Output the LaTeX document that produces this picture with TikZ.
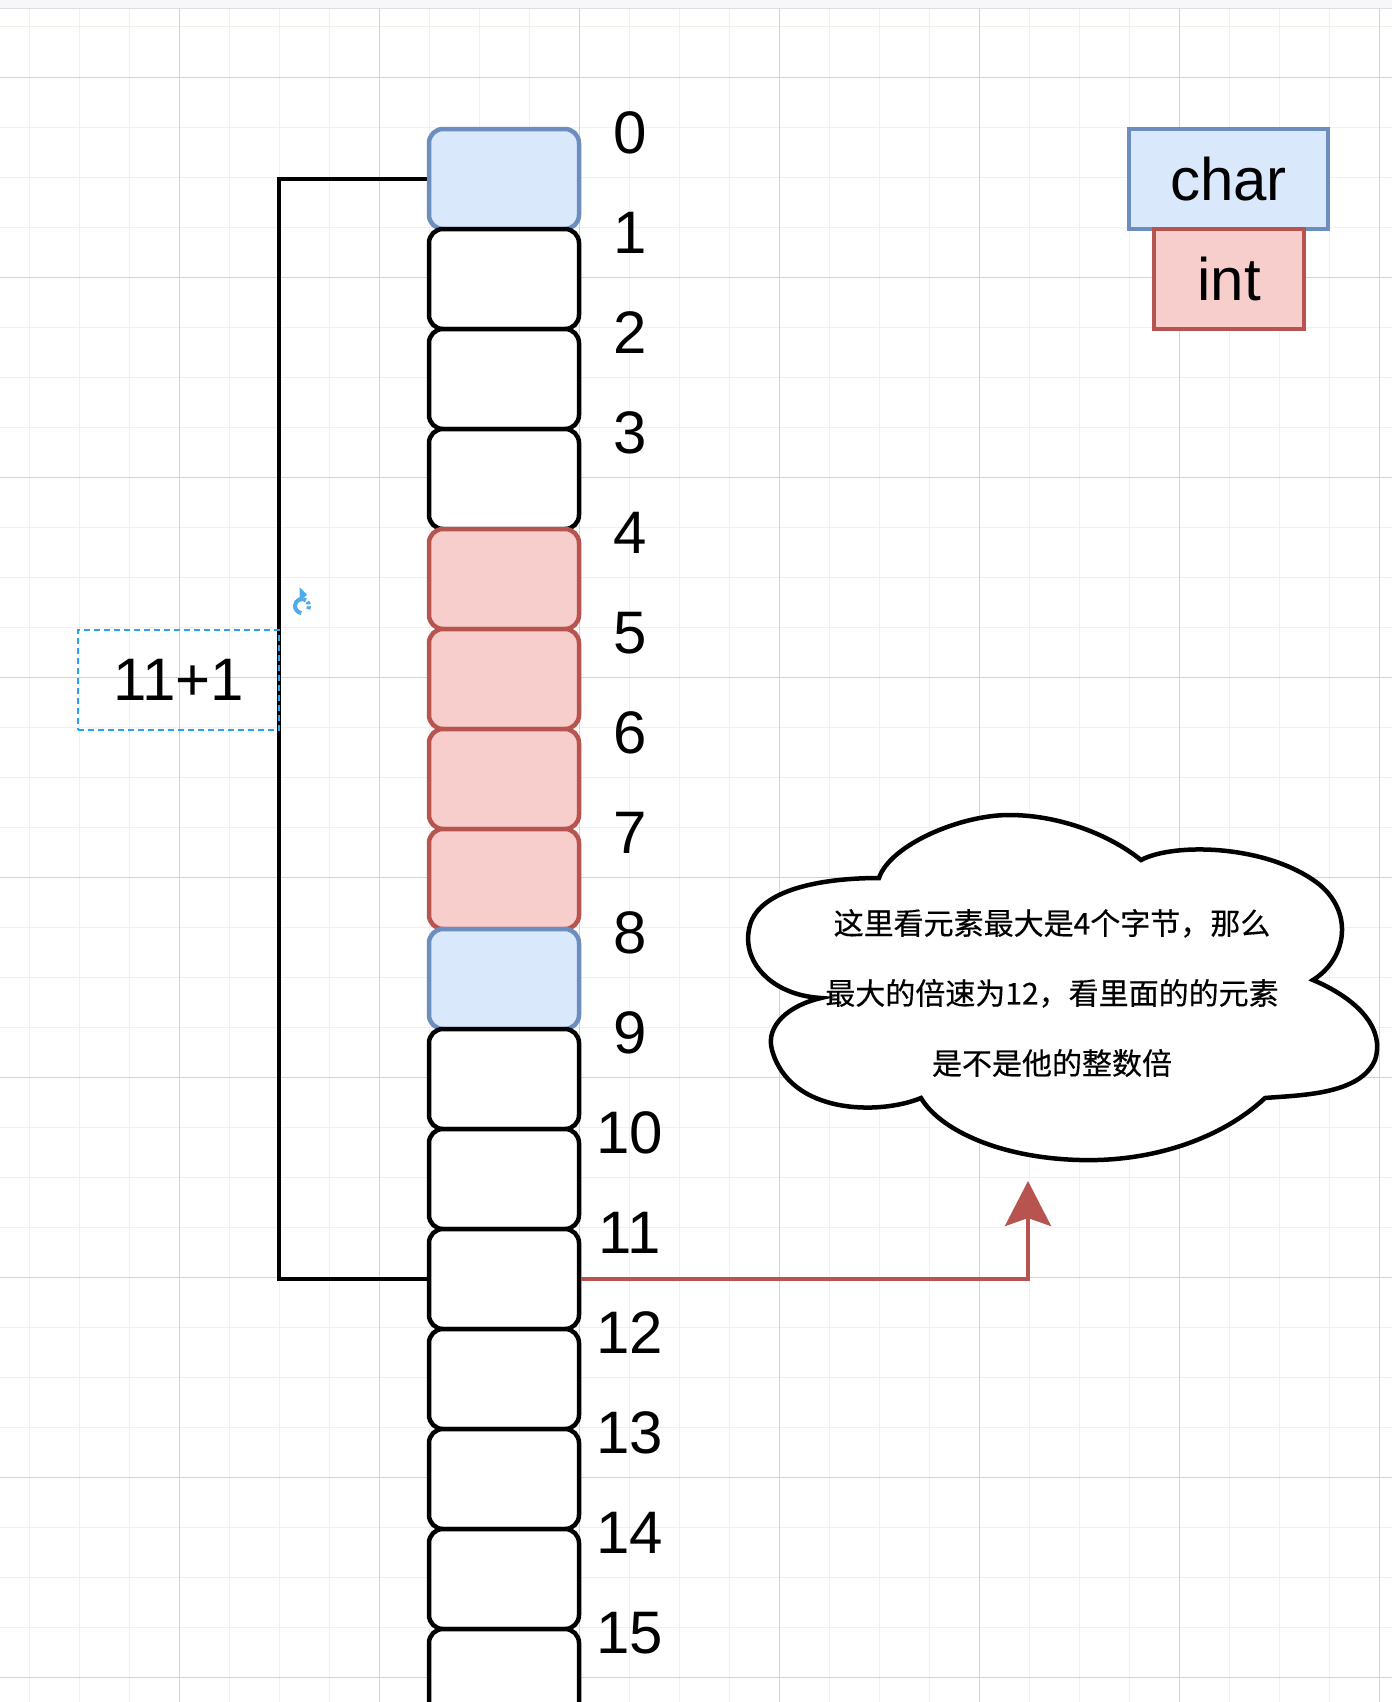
\documentclass[tikz,border=0pt]{standalone}
\usepackage{fontspec}
\setmainfont{Liberation Sans}
\newfontfamily\cjk{Noto Sans CJK SC}[FakeBold=0.4]
\usetikzlibrary{arrows.meta}
\definecolor{bluefill}{HTML}{DAE8FC}
\definecolor{bluedraw}{HTML}{6C8EBF}
\definecolor{redfill}{HTML}{F8CECC}
\definecolor{reddraw}{HTML}{B85450}
\definecolor{gridmajor}{RGB}{214,212,200}
\definecolor{gridminor}{RGB}{241,241,234}
\definecolor{selblue}{RGB}{41,162,240}
\definecolor{rotblue}{RGB}{80,170,235}
\definecolor{topband}{RGB}{247,247,248}
\definecolor{topline}{RGB}{222,222,230}
\begin{document}
\begin{tikzpicture}[x=1pt,y=-1pt,
  cell/.style={draw=black, fill=white, line width=4.5pt, rounded corners=14pt,
    minimum width=150pt, minimum height=100pt, inner sep=0pt},
  cellblue/.style={cell, draw=bluedraw, fill=bluefill},
  cellred/.style={cell, draw=reddraw, fill=redfill},
  idx/.style={font=\fontsize{60}{60}\selectfont, inner sep=0pt, anchor=center},
  legendbox/.style={line width=4.5pt, inner sep=0pt, font=\fontsize{60}{60}\selectfont},
  bracket/.style={line width=4.5pt, draw=black},
  minorline/.style={draw=gridminor, line width=1pt},
  majorline/.style={draw=gridmajor, line width=1pt},
  cloudline/.style={draw=black, fill=white, line width=4.5pt},
  pointer/.style={draw=reddraw, line width=4pt, -{Stealth[length=45pt,width=46pt,inset=8pt]}},
  selection/.style={draw=selblue, line width=1.5pt, dash pattern=on 6pt off 4pt}
]
\useasboundingbox (0,0) rectangle (1392,1702);
\fill[white] (0,0) rectangle (1392,1702);
% grid
\foreach \x in {29,79,...,1379} \draw[minorline] (\x,9) -- (\x,1702);
\foreach \y in {27,77,...,1677} \draw[minorline] (0,\y) -- (1392,\y);
\foreach \x in {179,379,...,1379} \draw[majorline] (\x,9) -- (\x,1702);
\foreach \y in {77,277,...,1677} \draw[majorline] (0,\y) -- (1392,\y);
\fill[topband] (0,0) rectangle (1392,8);
\draw[topline, line width=1.5pt] (0,8.5) -- (1392,8.5);

% memory cells
\foreach \k in {0,...,15} {
  \ifnum\k=0 \def\st{cellblue}\else
  \ifnum\k=8 \def\st{cellblue}\else
  \ifnum\k<4 \def\st{cell}\else
  \ifnum\k<8 \def\st{cellred}\else
  \def\st{cell}\fi\fi\fi\fi
  \node[\st] (c\k) at (504,179+100*\k) {};
  \node[idx] (n\k) at (630,133+100*\k) {\k};
}

% bracket
\draw[bracket] (c0.west) -- (279,179) -- (279,1279) -- (c11.west);

% selected label
\node[selection, minimum width=201pt, minimum height=100pt, inner sep=0pt,
      font=\fontsize{60}{60}\selectfont] (sum) at (178.5,680) {11+1};

% rotation handle
\draw[rotblue, line width=4pt] (302,606) ++(95:7) arc[start angle=95, end angle=280, radius=7];
\draw[rotblue, line width=4pt, dash pattern=on 3pt off 2pt] (302,606) ++(280:7) arc[start angle=280, end angle=390, radius=7];
\fill[rotblue] (299.5,587) -- (307,594.5) -- (299.5,602) -- cycle;

% legend
\node[legendbox, draw=bluedraw, fill=bluefill, minimum width=199pt, minimum height=100pt] (char) at (1228.5,179) {char};
\node[legendbox, draw=reddraw, fill=redfill, minimum width=150pt, minimum height=100pt] (int) at (1229,279) {int};

% cloud
\draw[cloudline] (879,878) .. controls (890,845) and (960,815) .. (1009,815)
  .. controls (1060,815) and (1110,835) .. (1141,860)
  .. controls (1175,842) and (1270,845) .. (1320,885)
  .. controls (1355,915) and (1345,960) .. (1313,980)
  .. controls (1360,1000) and (1385,1030) .. (1375,1060)
  .. controls (1360,1095) and (1300,1095) .. (1265,1098)
  .. controls (1220,1140) and (1150,1162) .. (1080,1160)
  .. controls (1000,1158) and (940,1130) .. (921,1098)
  .. controls (880,1115) and (790,1115) .. (772,1050)
  .. controls (765,1025) and (790,1005) .. (821,998)
  .. controls (770,995) and (740,960) .. (750,925)
  .. controls (760,890) and (820,878) .. cycle;
\node[align=center, inner sep=0pt, font=\cjk\fontsize{30}{70}\selectfont] (note) at (1052,993)
  {这里看元素最大是4个字节，那么\\最大的倍速为12，看里面的的元素\\是不是他的整数倍};

% pointer arrow
\coordinate (tip) at (1028,1181);
\draw[pointer] (c11.east) -| (tip);
\end{tikzpicture}
\end{document}
